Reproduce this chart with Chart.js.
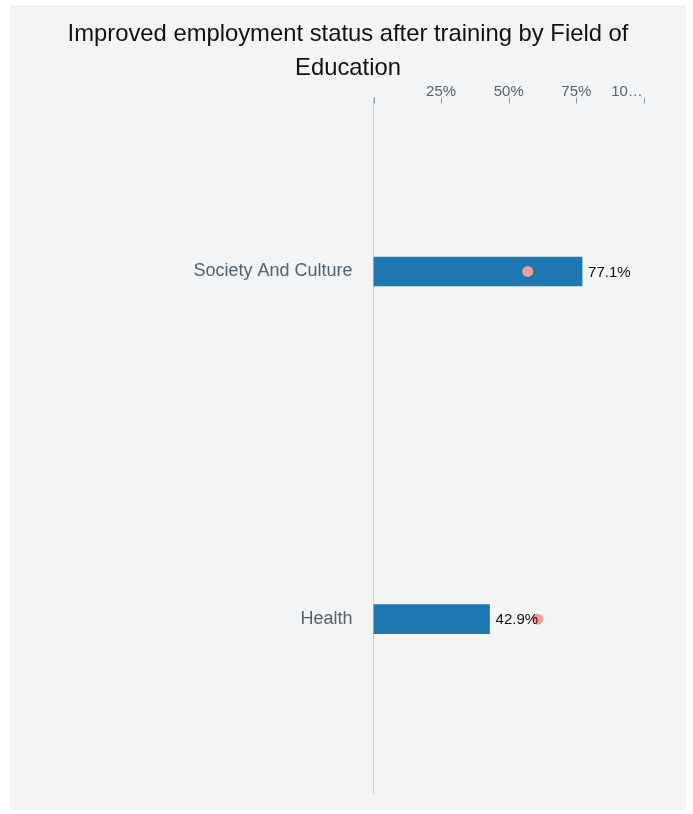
<!DOCTYPE html>
<html>
<head>
<meta charset="utf-8">
<script src="https://cdn.jsdelivr.net/npm/chart.js@4/dist/chart.umd.min.js"></script>
<style>
  html, body { margin: 0; padding: 0; background: #ffffff; }
  #wrap { position: absolute; left: 10px; top: 5px; width: 676px; height: 805px; background: #f3f4f6; }
  canvas { display: block; }
</style>
</head>
<body>
<div id="wrap"><canvas id="c" width="676" height="805"></canvas></div>
<script>
const titleLines = ['Improved employment status after training by Field of', 'Education'];
const categories = ['Society And Culture', 'Health'];
const barValues = [77.1, 42.9];
const dotValues = [57.0, 60.7];
const xTickValues = [0, 25, 50, 75, 100];
const xTickLabels = ['', '25%', '50%', '75%', '10…'];

const AXIS_LEFT = 363.5;
const RIGHT_GAP = 42;
const LAST_LABEL_SHIFT = -17;
const FONT = '"Liberation Sans", Arial, Helvetica, sans-serif';

const tickMarks = {
  id: 'tickMarks',
  afterDatasetsDraw(chart) {
    const ctx = chart.ctx, x = chart.scales.x, top = chart.chartArea.top;
    ctx.save();
    ctx.strokeStyle = '#8d9ba6';
    ctx.lineWidth = 1;
    xTickValues.forEach(v => {
      const px = Math.round(x.getPixelForValue(v)) + 0.5;
      ctx.beginPath();
      ctx.moveTo(px, top);
      ctx.lineTo(px, top + 6);
      ctx.stroke();
    });
    ctx.restore();
  }
};

const valueLabels = {
  id: 'valueLabels',
  afterDatasetsDraw(chart) {
    const ctx = chart.ctx;
    const meta = chart.getDatasetMeta(1);
    ctx.save();
    ctx.font = '15px ' + FONT;
    ctx.fillStyle = '#111111';
    ctx.textAlign = 'left';
    ctx.textBaseline = 'middle';
    meta.data.forEach((bar, i) => {
      ctx.fillText(barValues[i].toFixed(1) + '%', bar.x + 6, bar.y + 1);
    });
    ctx.restore();
  }
};

function shiftLastLabel(scale) {
  if (scale._lastShiftWrapped) return;
  scale._lastShiftWrapped = true;
  const orig = scale._computeLabelItems.bind(scale);
  scale._computeLabelItems = function (area) {
    const items = orig(area);
    if (items.length) {
      const last = items[items.length - 1];
      if (last.options && last.options.translation) {
        last.options.translation = [last.options.translation[0] + LAST_LABEL_SHIFT, last.options.translation[1]];
      }
    }
    return items;
  };
}

new Chart(document.getElementById('c'), {
  type: 'bar',
  data: {
    labels: categories,
    datasets: [
      {
        type: 'line',
        indexAxis: 'y',
        data: dotValues,
        showLine: false,
        pointRadius: 5.5,
        pointHoverRadius: 5.5,
        pointBackgroundColor: '#f79c9a',
        pointBorderWidth: 0,
        borderColor: '#f79c9a',
        order: 0
      },
      {
        type: 'bar',
        data: barValues,
        backgroundColor: '#1f77b4',
        barThickness: 29,
        order: 1
      }
    ]
  },
  options: {
    indexAxis: 'y',
    responsive: false,
    animation: false,
    layout: { autoPadding: false, padding: { left: 0, right: 0, top: 0, bottom: 17 } },
    plugins: {
      legend: { display: false },
      tooltip: { enabled: false },
      title: {
        display: true,
        text: titleLines,
        color: '#111111',
        font: { family: FONT, size: 23.8, weight: 'normal', lineHeight: 1.4 },
        padding: { top: 13, bottom: 0 }
      }
    },
    scales: {
      x: {
        position: 'top',
        type: 'linear',
        min: 0,
        max: 100,
        afterBuildTicks(scale) { scale.ticks = xTickValues.map(v => ({ value: v })); },
        ticks: {
          padding: -2,
          color: '#53636e',
          font: { family: FONT, size: 15, lineHeight: 1 },
          callback(v) { const i = xTickValues.indexOf(v); return i >= 0 ? xTickLabels[i] : ''; },
          maxRotation: 0,
          autoSkip: false
        },
        grid: { display: false, drawTicks: false },
        border: { display: false },
        afterFit(scale) { scale.height = 13; scale.paddingRight = RIGHT_GAP; scale.paddingLeft = 0; },
        afterUpdate(scale) { shiftLastLabel(scale); }
      },
      y: {
        grid: { display: false, drawTicks: false },
        border: { display: true, color: '#cccccc', width: 1 },
        ticks: {
          padding: 21,
          color: '#53636e',
          font: { family: FONT, size: 18 }
        },
        afterFit(scale) { scale.width = AXIS_LEFT; scale.paddingTop = 0; scale.paddingBottom = 0; }
      }
    }
  },
  plugins: [tickMarks, valueLabels]
});
</script>
</body>
</html>
